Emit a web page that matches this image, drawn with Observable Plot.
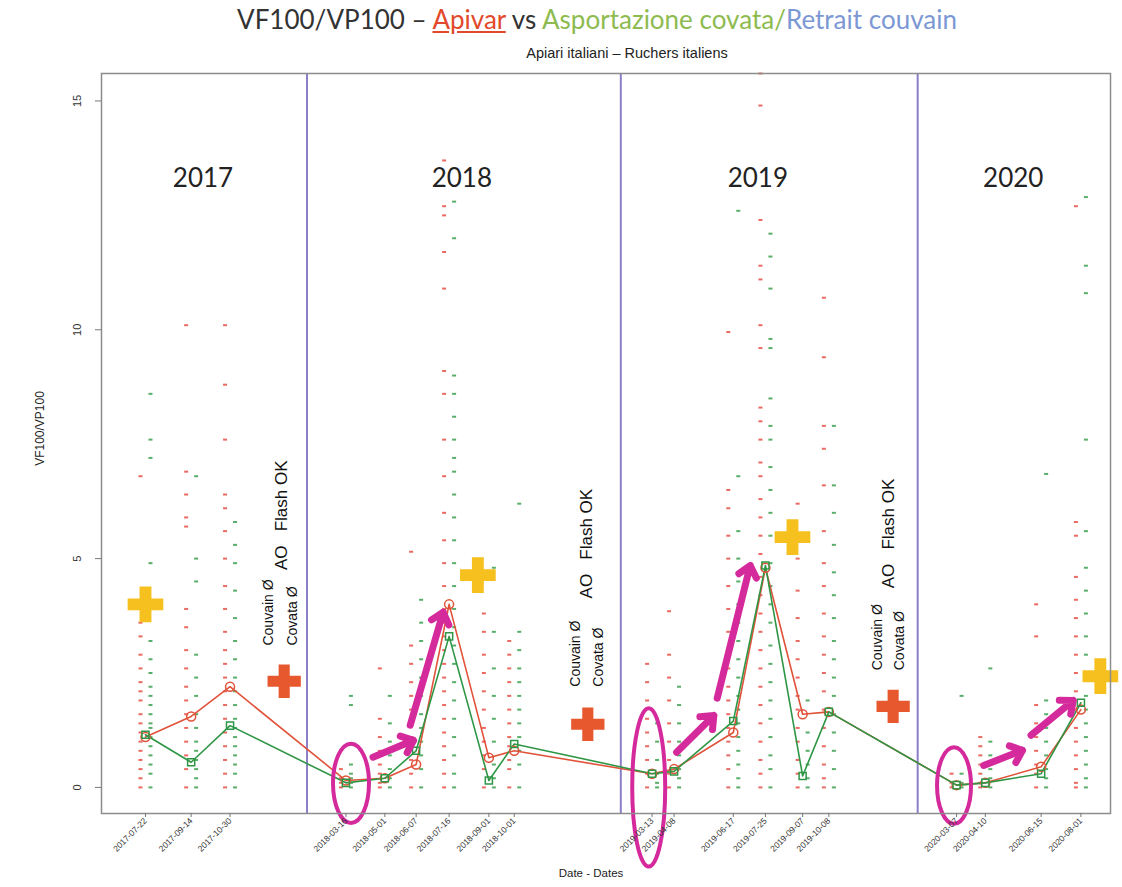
<!DOCTYPE html>
<html><head><meta charset="utf-8">
<script src="https://cdn.jsdelivr.net/npm/d3@7"></script>
<script src="https://cdn.jsdelivr.net/npm/@observablehq/plot@0.6"></script>
<style>
body{margin:0;background:#fff;}
#wrap{position:relative;width:1122px;height:887px;overflow:hidden;background:#fff;}
#chart{position:absolute;left:0;top:0;}
#title{position:absolute;top:3px;left:36px;width:1122px;text-align:center;font-family:Lato,sans-serif;font-size:26px;color:#333;white-space:nowrap;}
#sub{position:absolute;top:45px;left:66px;width:1122px;text-align:center;font-family:"Liberation Sans",Arial,sans-serif;font-size:14.5px;color:#222;white-space:nowrap;}
</style></head>
<body><div id="wrap"><div id="chart"></div>
<div id="title">VF100/VP100 – <span style="color:#e2492a;text-decoration:underline">Apivar</span> vs <span style="color:#8dbb4f">Asportazione covata/</span><span style="color:#7c98d4">Retrait couvain</span></div>
<div id="sub">Apiari italiani – Ruchers italiens</div></div>
<script>
// ---- data ----
const dates = ["2017-07-22","2017-09-14","2017-10-30","2018-03-16","2018-05-01","2018-06-07","2018-07-16","2018-09-01","2018-10-01","2019-03-13","2019-04-08","2019-06-17","2019-07-25","2019-09-07","2019-10-08","2020-03-07","2020-04-10","2020-06-15","2020-08-01"];
const meanApivar = [1.1,1.55,2.2,0.15,0.2,0.5,4.0,0.65,0.8,0.3,0.4,1.2,4.8,1.6,1.65,0.05,0.1,0.45,1.7];
const meanCovata = [1.15,0.55,1.35,0.1,0.2,0.8,3.3,0.15,0.95,0.3,0.35,1.45,4.85,0.25,1.65,0.05,0.1,0.3,1.85];
const apivarPts = [
 [6.8,3.6,3.3,2.9,2.6,2.3,2.1,1.9,1.6,1.4,1.2,1.0,0.8,0.6,0.4,0.2,0],
 [10.1,6.9,6.4,5.9,5.7,3.9,3.5,3.0,2.6,2.2,1.9,1.6,1.3,1.0,0.7,0.4,0],
 [10.1,8.8,7.6,6.4,6.1,5.6,5.0,4.4,3.9,3.4,3.0,2.7,2.4,2.1,1.8,1.5,1.2,0.9,0.6,0.3,0],
 [0.4,0.2,0.1,0],
 [2.6,1.5,1.1,0.8,0.5,0.3,0.1,0],
 [5.15,3.1,2.7,2.3,2.0,1.7,1.4,1.1,0.9,0.6,0.3,0],
 [13.7,12.7,12.5,11.7,10.9,9.1,8.6,7.6,6.8,6.0,5.4,4.9,4.4,3.9,3.6,3.3,3.0,2.7,2.4,2.1,1.8,1.5,1.2,0.9,0.6,0.3,0],
 [4.6,3.8,3.4,2.9,2.5,2.1,1.7,1.3,1.0,0.7,0.4,0],
 [3.2,2.9,2.6,2.3,2.0,1.7,1.4,1.1,0.9,0.6,0.4,0],
 [2.7,2.3,1.9,1.5,1.2,0.9,0.6,0.3,0],
 [3.85,2.9,2.4,1.9,1.4,1.0,0.6,0.3,0],
 [9.95,6.5,6.1,5.5,5.0,4.4,3.9,3.4,3.0,2.6,2.2,1.9,1.6,1.3,1.0,0.7,0.4,0],
 [15.6,14.9,12.4,11.4,11.1,10.1,9.6,8.3,8.0,7.6,7.1,6.8,6.3,5.9,5.5,5.1,4.6,4.2,3.8,3.4,3.0,2.6,2.2,1.8,1.4,1.0,0.6,0.3,0],
 [6.2,5.0,4.3,3.7,3.2,2.8,2.4,2.0,1.7,1.3,1.0,0.6,0.3,0],
 [10.7,9.4,7.9,7.4,6.6,5.6,4.9,4.4,3.8,3.3,2.9,2.5,2.1,1.7,1.3,0.9,0.5,0.2,0],
 [0.3,0.1,0],
 [1.1,0.9,0.7,0.5,0.3,0.1,0],
 [4.0,3.3,1.8,1.4,1.1,0.8,0.5,0.3,0],
 [12.7,5.8,5.5,4.6,4.1,3.7,3.3,2.9,2.5,2.1,1.7,1.3,1.0,0.7,0.4,0.1,0]
];
const covataPts = [
 [8.6,7.6,7.2,4.9,3.2,2.8,2.5,2.2,2.0,1.8,1.6,1.4,1.3,1.1,0.9,0.7,0.5,0.3,0],
 [6.8,5.0,4.5,2.9,2.4,2.0,1.6,1.3,1.0,0.8,0.6,0.4,0.2,0],
 [5.8,5.3,4.9,4.3,3.7,3.2,2.8,2.4,2.1,1.8,1.5,1.3,1.1,0.9,0.7,0.5,0.3,0],
 [2.0,1.8,0.5,0.3,0.2,0.1,0],
 [2.0,1.4,1.0,0.7,0.4,0.2,0],
 [4.1,3.6,3.2,2.8,2.4,2.0,1.6,1.3,1.0,0.7,0.4,0],
 [12.8,12.0,9.0,8.6,8.1,7.6,7.2,6.9,6.4,5.9,5.4,4.9,4.4,3.9,3.5,3.1,2.7,2.3,1.9,1.5,1.1,0.7,0.3,0],
 [4.8,3.4,2.6,2.0,1.5,1.0,0.5,0.2,0],
 [6.2,3.4,3.0,2.6,2.3,2.0,1.7,1.4,1.1,0.8,0.5,0],
 [1.4,1.0,0.6,0.3,0.1,0],
 [2.2,1.8,1.4,1.0,0.7,0.4,0.2,0],
 [12.6,6.8,5.6,5.0,4.5,4.0,3.6,3.2,2.8,2.4,2.0,1.7,1.4,1.1,0.8,0.5,0.2,0],
 [12.1,11.6,10.9,9.8,9.6,8.5,7.9,7.6,7.0,6.5,6.0,5.5,4.9,4.4,4.0,3.6,3.1,2.7,2.3,1.9,1.5,1.1,0.7,0.4,0],
 [5.5,1.9,1.2,0.8,0.5,0.2,0],
 [7.9,6.6,6.0,5.3,4.7,4.2,3.7,3.2,2.8,2.4,2.0,1.6,1.2,0.8,0.4,0],
 [2.0,0.3,0.1,0],
 [2.6,1.0,0.7,0.4,0.2,0],
 [6.85,1.9,1.6,1.3,1.0,0.7,0.4,0.2,0],
 [12.9,11.4,10.8,7.6,5.6,4.8,4.3,3.8,3.3,2.9,2.4,2.0,1.7,1.4,1.1,0.8,0.5,0.2,0]
];
const yTicks = [0,5,10,15];
const yearSeparators = ["2018-01-29","2019-02-04","2020-01-21"];
const yearLabels = [{date:"2017-09-28",v:13.3,t:"2017"},{date:"2018-07-31",v:13.3,t:"2018"},{date:"2019-07-16",v:13.3,t:"2019"},{date:"2020-05-13",v:13.3,t:"2020"}];
const goldCrosses = [{date:"2017-07-22",v:4.0},{date:"2018-08-19",v:4.64},{date:"2019-08-26",v:5.47},{date:"2020-08-24",v:2.43}];
const orangeCrosses = [{date:"2018-01-02",v:2.32},{date:"2018-12-27",v:1.38},{date:"2019-12-23",v:1.77}];
const noteCouvain = [{date:"2017-12-14",v:3.1},{date:"2018-12-13",v:2.2},{date:"2019-12-05",v:2.56}];
const noteCovata = [{date:"2018-01-12",v:3.1},{date:"2019-01-09",v:2.2},{date:"2019-12-31",v:2.56}];
const noteAO = [{date:"2017-12-30",v:4.75},{date:"2018-12-25",v:4.13},{date:"2019-12-18",v:4.35}];
const ellipses = [{date:"2018-03-22",v:0.09},{date:"2019-03-09",v:0.0},{date:"2020-03-04",v:0.04}];
const arrows = [
 {d1:"2018-04-17",v1:0.66,d2:"2018-06-04",v2:1.03},
 {d1:"2018-05-31",v1:1.36,d2:"2018-07-09",v2:3.83},
 {d1:"2019-04-11",v1:0.77,d2:"2019-05-25",v2:1.57},
 {d1:"2019-05-29",v1:1.95,d2:"2019-07-07",v2:4.85},
 {d1:"2020-04-08",v1:0.48,d2:"2020-05-24",v2:0.81},
 {d1:"2020-06-03",v1:1.14,d2:"2020-07-23",v2:1.9}
];

// ---- build ----
const parse = d3.utcParse("%Y-%m-%d");
const P = a => a.map(o => ({...o, date: parse(o.date)}));
const ptsA = [], ptsC = [];
dates.forEach((d,i) => {
  apivarPts[i].forEach(v => ptsA.push({date: parse(d), v}));
  covataPts[i].forEach(v => ptsC.push({date: parse(d), v}));
});
const means = dates.map((d,i) => ({date: parse(d), a: meanApivar[i], c: meanCovata[i]}));

function ellipseSymbol(k){
  return {draw(ctx, size){
    const rx = Math.sqrt(size/Math.PI), ry = rx*k, c = 0.5523;
    ctx.moveTo(rx,0);
    ctx.bezierCurveTo(rx, ry*c, rx*c, ry, 0, ry);
    ctx.bezierCurveTo(-rx*c, ry, -rx, ry*c, -rx, 0);
    ctx.bezierCurveTo(-rx, -ry*c, -rx*c, -ry, 0, -ry);
    ctx.bezierCurveTo(rx*c, -ry, rx, -ry*c, rx, 0);
    ctx.closePath();
  }};
}
const dash = {draw(ctx){ ctx.rect(-2, -1, 4, 2); }};
const E = P(ellipses);
const magenta = "#d42a9c";
const red = "#e0523a", green = "#2f9646";
const sp = "\u00a0";

const chart = Plot.plot({
  width: 1122, height: 887,
  marginLeft: 101, marginRight: 12, marginTop: 73, marginBottom: 74,
  x: {type: "utc", domain: [parse("2017-05-31"), parse("2020-09-05")]},
  y: {domain: [-0.57, 15.6]},
  style: {fontFamily: "'Liberation Sans', Arial, sans-serif", background: "white", color: "#333"},
  marks: [
    Plot.ruleX(yearSeparators.map(parse), {stroke: "#8b7ec6", strokeWidth: 2}),
    Plot.dot(ptsA, {x: "date", y: "v", dx: -5, symbol: dash, r: 1, fill: "#e4443c", fillOpacity: 0.8}),
    Plot.dot(ptsC, {x: "date", y: "v", dx: 5, symbol: dash, r: 1, fill: "#2e9a44", fillOpacity: 0.8}),
    Plot.line(means, {x: "date", y: "a", stroke: red, strokeWidth: 1.6}),
    Plot.line(means, {x: "date", y: "c", stroke: green, strokeWidth: 1.6}),
    Plot.dot(means, {x: "date", y: "a", r: 4.5, stroke: red, strokeWidth: 1.5, fill: "none"}),
    Plot.dot(means, {x: "date", y: "c", r: 4, symbol: "square", stroke: green, strokeWidth: 1.5, fill: "none"}),
    Plot.dot(P(goldCrosses), {x: "date", y: "v", symbol: "cross", r: 15, fill: "#f6c01e"}),
    Plot.dot(P(orangeCrosses), {x: "date", y: "v", symbol: "cross", r: 14, fill: "#e8582e"}),
    Plot.text(P(noteCouvain), {x: "date", y: "v", text: () => "Couvain Ø", rotate: -90, textAnchor: "start", fontSize: 14, fill: "#111"}),
    Plot.text(P(noteCovata), {x: "date", y: "v", text: () => "Covata Ø", rotate: -90, textAnchor: "start", fontSize: 14, fill: "#111"}),
    Plot.text(P(noteAO), {x: "date", y: "v", text: () => "AO" + sp + sp + sp + "Flash OK", rotate: -90, textAnchor: "start", fontSize: 17, fill: "#111"}),
    Plot.text(P(yearLabels), {x: "date", y: "v", text: "t", fontSize: 26, fontFamily: "Lato, sans-serif", fill: "#222"}),
    Plot.dot([E[0]], {x: "date", y: "v", r: 18, symbol: ellipseSymbol(2.2), stroke: magenta, strokeWidth: 4, fill: "none"}),
    Plot.dot([E[1]], {x: "date", y: "v", r: 16.5, symbol: ellipseSymbol(4.8), stroke: magenta, strokeWidth: 4, fill: "none"}),
    Plot.dot([E[2]], {x: "date", y: "v", r: 17, symbol: ellipseSymbol(2.25), stroke: magenta, strokeWidth: 4, fill: "none"}),
    Plot.arrow(arrows, {x1: d => parse(d.d1), y1: "v1", x2: d => parse(d.d2), y2: "v2", stroke: magenta, strokeWidth: 7, headLength: 3, headAngle: 80}),
    Plot.frame({stroke: "#8c8c8c", strokeWidth: 1.5}),
    Plot.axisY({ticks: yTicks, tickSize: 6, tickFormat: () => "", stroke: "#777", label: null}),
    Plot.text(yTicks, {y: d => d, text: d => String(d), frameAnchor: "left", textAnchor: "middle", dx: -24, rotate: -90, fontSize: 11, fill: "#333"}),
    Plot.text(["VF100/VP100"], {frameAnchor: "left", textAnchor: "middle", dx: -61, dy: -15, rotate: -90, fontSize: 12, fill: "#222"}),
    Plot.axisX({ticks: dates.map(parse), tickFormat: d3.utcFormat("%Y-%m-%d"), tickRotate: -45, tickSize: 4, fontSize: 8.5, stroke: "#777", label: null, tickPadding: 2}),
    Plot.text(["Date - Dates"], {frameAnchor: "bottom", dy: 63, dx: -15, fontSize: 11.5, fill: "#222"})
  ]
});
document.getElementById("chart").appendChild(chart);
</script>
</body></html>
